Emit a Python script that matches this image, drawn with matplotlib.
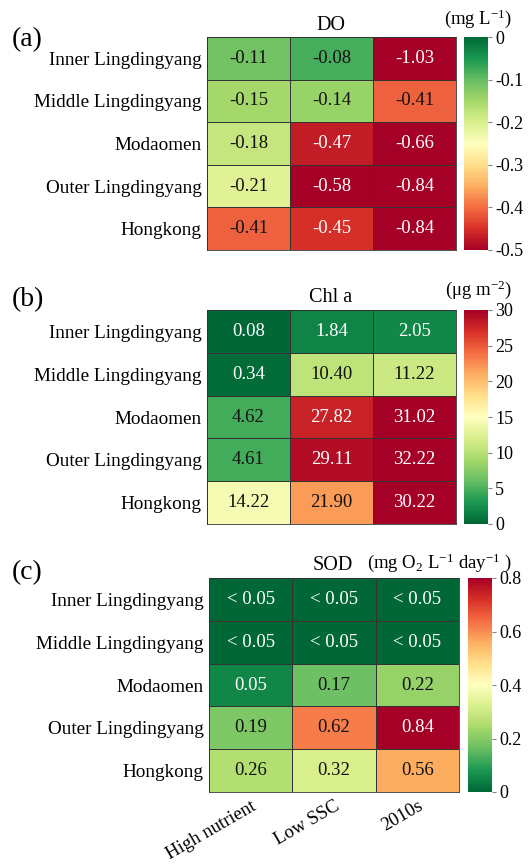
import matplotlib
matplotlib.use('Agg')
import matplotlib.pyplot as plt
import numpy as np
from matplotlib.colors import Normalize
from matplotlib.ticker import FuncFormatter

plt.rcParams['font.family'] = ['Liberation Serif', 'DejaVu Serif']
plt.rcParams['mathtext.fontset'] = 'custom'
plt.rcParams['mathtext.rm'] = 'Liberation Serif'
plt.rcParams['mathtext.it'] = 'Liberation Serif:italic'
plt.rcParams['axes.unicode_minus'] = False

regions = ['Inner Lingdingyang', 'Middle Lingdingyang', 'Modaomen',
           'Outer Lingdingyang', 'Hongkong']
scenarios = ['High nutrient', 'Low SSC', '2010s']

do_vals = [[-0.11, -0.08, -1.03],
           [-0.15, -0.14, -0.41],
           [-0.18, -0.47, -0.66],
           [-0.21, -0.58, -0.84],
           [-0.41, -0.45, -0.84]]

chla_vals = [[0.08, 1.84, 2.05],
             [0.34, 10.40, 11.22],
             [4.62, 27.82, 31.02],
             [4.61, 29.11, 32.22],
             [14.22, 21.90, 30.22]]

# "< 0.05" cells drawn at 0
sod_vals = [[0.0, 0.0, 0.0],
            [0.0, 0.0, 0.0],
            [0.05, 0.17, 0.22],
            [0.19, 0.62, 0.84],
            [0.26, 0.32, 0.56]]
sod_labels = [['< 0.05', '< 0.05', '< 0.05'],
              ['< 0.05', '< 0.05', '< 0.05'],
              ['0.05', '0.17', '0.22'],
              ['0.19', '0.62', '0.84'],
              ['0.26', '0.32', '0.56']]

do_ticks = [0, -0.1, -0.2, -0.3, -0.4, -0.5]
chla_ticks = [0, 5, 10, 15, 20, 25, 30]
sod_ticks = [0, 0.2, 0.4, 0.6, 0.8]

W, H = 530, 865
fig = plt.figure(figsize=(W / 100, H / 100), dpi=100)


def box(x0, y0, x1, y1):
    return [x0 / W, 1 - y1 / H, (x1 - x0) / W, (y1 - y0) / H]


def heat(ax_box, cb_box, vals, labels, cmap, vmin, vmax, ticks, show_x):
    ax = fig.add_axes(box(*ax_box))
    cax = fig.add_axes(box(*cb_box))
    data = np.array(vals)
    norm = Normalize(vmin=vmin, vmax=vmax)
    cm = plt.get_cmap(cmap)
    mesh = ax.pcolormesh(data, cmap=cm, norm=norm, edgecolors='#333333', linewidth=0.6)
    ax.set_xlim(0, data.shape[1])
    ax.set_ylim(data.shape[0], 0)
    for i in range(data.shape[0]):
        for j in range(data.shape[1]):
            r, g, b, _ = cm(norm(data[i, j]))
            lum = 0.299 * r + 0.587 * g + 0.114 * b
            col = 'white' if lum < 0.47 else '#111111'
            ax.text(j + 0.5, i + 0.5, labels[i][j], ha='center', va='center',
                    fontsize=13.5, color=col)
    ax.set_yticks(np.arange(len(regions)) + 0.5)
    ax.set_yticklabels(regions, fontsize=13.8)
    ax.set_xticks(np.arange(len(scenarios)) + 0.5)
    if show_x:
        ax.set_xticklabels(scenarios, fontsize=13.5, rotation=30, ha='right',
                           rotation_mode='anchor')
    else:
        ax.set_xticklabels([])
    ax.tick_params(length=0, pad=4)
    for s in ax.spines.values():
        s.set_color('#333333')
        s.set_linewidth(0.6)
    cb = fig.colorbar(mesh, cax=cax, ticks=ticks,
                      format=FuncFormatter(lambda v, p: '%g' % round(v, 2)))
    cb.outline.set_visible(False)
    cb.ax.tick_params(labelsize=13, length=3, color='#888888', pad=2)
    return ax


do_lab = [['%.2f' % v for v in row] for row in do_vals]
chla_lab = [['%.2f' % v for v in row] for row in chla_vals]

heat((207, 37, 456, 250), (464, 37, 488, 250), do_vals, do_lab,
     'RdYlGn', -0.5, 0, do_ticks, False)
heat((207, 310, 456, 524), (464, 310, 488, 524), chla_vals, chla_lab,
     'RdYlGn_r', 0, 30, chla_ticks, False)
heat((209, 578, 459, 792), (468, 578, 492, 792), sod_vals, sod_labels,
     'RdYlGn_r', 0, 0.8, sod_ticks, True)

fig.text(331 / W, 1 - 25 / H, 'DO', ha='center', va='center', fontsize=14.5)
fig.text(478 / W, 1 - 19 / H, r'(mg L$^{-1}$)', ha='center', va='center', fontsize=13.5)
fig.text(331 / W, 1 - 297 / H, 'Chl a', ha='center', va='center', fontsize=14.5)
fig.text(478 / W, 1 - 290 / H, r'(μg m$^{-2}$)', ha='center', va='center', fontsize=13.5)
fig.text(333 / W, 1 - 565 / H, 'SOD', ha='center', va='center', fontsize=14.5)
fig.text(367 / W, 1 - 563 / H, r'(mg O$_2$ L$^{-1}$ day$^{-1}$ )', ha='left', va='center', fontsize=13.5)

fig.text(12 / W, 1 - 40 / H, '(a)', ha='left', va='center', fontsize=20)
fig.text(12 / W, 1 - 300 / H, '(b)', ha='left', va='center', fontsize=20)
fig.text(12 / W, 1 - 573 / H, '(c)', ha='left', va='center', fontsize=20)

plt.savefig('out.png', dpi=100)
plt.close()
